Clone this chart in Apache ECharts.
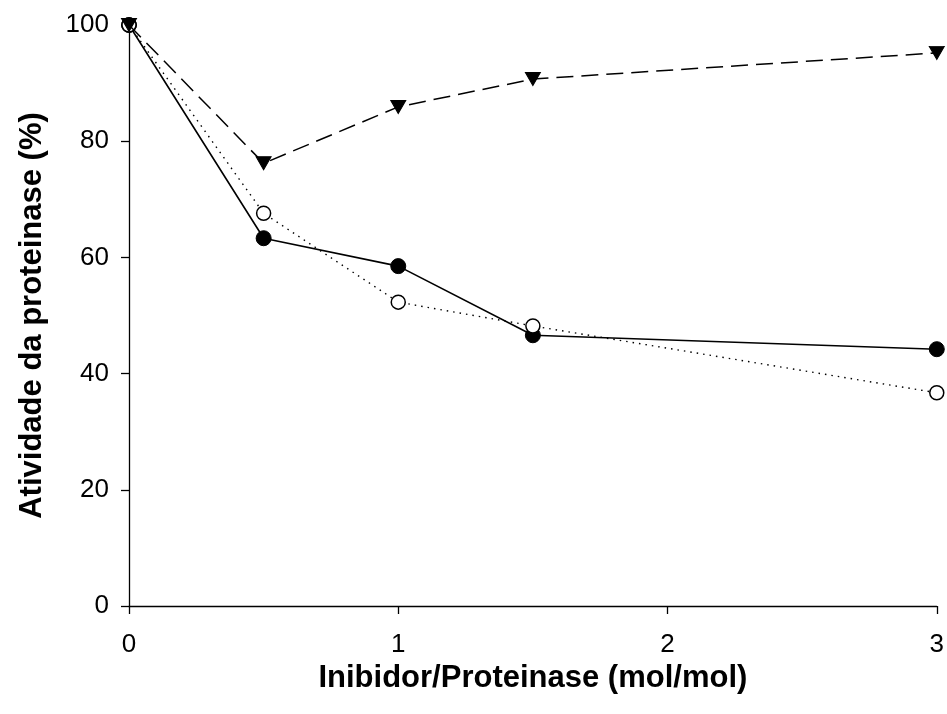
<!DOCTYPE html>
<html>
<head>
<meta charset="utf-8">
<script src="https://cdn.jsdelivr.net/npm/echarts@6/dist/echarts.min.js"></script>
<style>
  html, body { margin: 0; padding: 0; background: #fff; }
  #chart { width: 947px; height: 714px; }
</style>
</head>
<body>
<div id="chart"></div>
<script>
// Inibidor/Proteinase ratios (mol/mol)
const ratios = [0, 0.5, 1, 1.5, 3];

// Atividade da proteinase (%) for each inhibitor curve
const filledCircle = [100, 63.3, 58.5, 46.6, 44.2];
const openCircle = [100, 67.6, 52.3, 48.2, 36.7];
const triangleDown = [100, 76.2, 85.9, 90.7, 95.2];

const pairs = vals => ratios.map((x, i) => [x, vals[i]]);

const chart = echarts.init(document.getElementById('chart'));
const font = 'Liberation Sans, Arial, sans-serif';

const option = {
    animation: false,
    backgroundColor: '#fff',
    grid: { left: 129, right: 8, top: 25, bottom: 108 },
    xAxis: {
        type: 'value',
        min: 0,
        max: 3,
        interval: 1,
        name: 'Inibidor/Proteinase (mol/mol)',
        nameLocation: 'middle',
        nameGap: 52,
        nameTextStyle: { fontFamily: font, fontSize: 31, fontWeight: 'bold', color: '#000' },
        axisLine: { show: true, onZero: false, lineStyle: { color: '#000', width: 1.3 } },
        axisTick: { show: true, length: 8, lineStyle: { color: '#000', width: 1.3 } },
        axisLabel: { fontFamily: font, fontSize: 26, color: '#000', margin: 26 },
        splitLine: { show: false }
    },
    yAxis: {
        type: 'value',
        min: 0,
        max: 100,
        interval: 20,
        name: 'Atividade da proteinase (%)',
        nameLocation: 'middle',
        nameGap: 81,
        nameRotate: 90,
        nameTextStyle: { fontFamily: font, fontSize: 31, fontWeight: 'bold', color: '#000' },
        axisLine: { show: true, lineStyle: { color: '#000', width: 1.3 } },
        axisTick: { show: true, length: 8, lineStyle: { color: '#000', width: 1.3 } },
        axisLabel: { fontFamily: font, fontSize: 26, color: '#000', margin: 20 },
        splitLine: { show: false }
    },
    series: [
        {
            type: 'line',
            data: pairs(filledCircle),
            clip: false,
            symbol: 'circle',
            symbolSize: 15,
            itemStyle: { color: '#000', borderColor: '#000', borderWidth: 1 },
            lineStyle: { color: '#000', width: 1.6, type: 'solid' },
            z: 2
        },
        {
            type: 'line',
            data: pairs(openCircle),
            clip: false,
            symbol: 'circle',
            symbolSize: 14,
            itemStyle: { color: '#fff', borderColor: '#000', borderWidth: 1.5 },
            lineStyle: { color: '#000', width: 1.4, type: [1.5, 5] },
            z: 3
        },
        {
            type: 'line',
            data: pairs(triangleDown),
            clip: false,
            symbol: 'triangle',
            symbolRotate: 180,
            symbolSize: [15, 13],
            itemStyle: { color: '#000', borderColor: '#000', borderWidth: 1 },
            lineStyle: { color: '#000', width: 1.5, type: [17, 8] },
            z: 4
        }
    ]
};
chart.setOption(option);
</script>
</body>
</html>
